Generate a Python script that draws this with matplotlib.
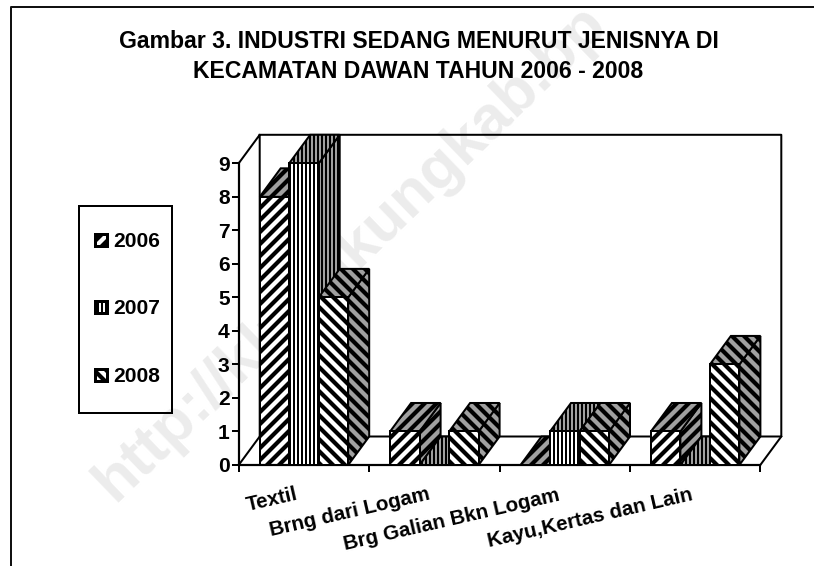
import matplotlib
matplotlib.use("Agg")
import matplotlib.pyplot as plt
from matplotlib.patches import Polygon, Rectangle

plt.rcParams['font.family'] = ['Liberation Sans', 'DejaVu Sans']
plt.rcParams['font.weight'] = 'bold'

# data
kategori = ["Textil", "Brng dari Logam", "Brg Galian Bkn Logam", "Kayu,Kertas dan Lain"]
tahun = ["2006", "2007", "2008"]
v2006 = [8, 1, 0, 1]
v2007 = [9, 0, 1, 0]
v2008 = [5, 1, 1, 3]
judul = ["Gambar 3. INDUSTRI SEDANG MENURUT JENISNYA DI",
         "KECAMATAN DAWAN TAHUN 2006 - 2008"]

# estilo
hatches = ["//", "|||", "\\\\"]
hatch_lw = [4.2, 2.0, 4.2]
gris = "#a0a0a0"
W, H = 814, 566

fig = plt.figure(figsize=(W / 72, H / 72), dpi=72, facecolor="white")

# capa de fondo en pixeles: marco, titulo, marca de agua, leyenda
bg = fig.add_axes([0, 0, 1, 1])
bg.set_xlim(0, W)
bg.set_ylim(H, 0)
bg.axis("off")
bg.text(115, 503, "http://klungkungkab.bp", fontsize=62, color="#ececec",
        rotation=44, rotation_mode="anchor", ha="left", va="baseline", clip_on=True, zorder=0)
bg.plot([10.5, 10.5, W], [H, 7, 7], color="#111111", lw=2, zorder=1)
bg.text(418.5, 48, judul[0], fontsize=23, ha="center", va="baseline")
bg.text(418.5, 78, judul[1], fontsize=23, ha="center", va="baseline")

# etiquetas del eje x
lab_x = [272, 350, 452, 590]
lab_y = [499.5, 512, 520, 518]
for t, x, y in zip(kategori, lab_x, lab_y):
    bg.text(x, y, t, fontsize=20.5, rotation=13, rotation_mode="anchor", ha="center", va="center")

# leyenda
bg.add_patch(Rectangle((79, 206), 93, 207, fc="none", ec="black", lw=2))
leg_y = [247, 314, 382]
for t, h, lw, y in zip(tahun, hatches, hatch_lw, leg_y):
    plt.rcParams['hatch.linewidth'] = lw
    bg.add_patch(Rectangle((95, y - 13.5), 12, 12, facecolor="white", edgecolor="black", hatch=h, lw=3))
    bg.text(113, y, t, fontsize=21, ha="left", va="baseline")

# grafico
ax = fig.add_axes([238.7 / W, (H - 465) / H, 521.6 / W, 301.7 / H])
ax.patch.set_visible(False)
ax.set_xlim(0, 4)
ax.set_ylim(0, 9)
ax.set_yticks(range(10))
ax.set_xticks(range(5))
ax.set_xticklabels([])
ax.tick_params(axis="both", length=7, width=2, labelsize=21, pad=2)
for s in ["top", "right"]:
    ax.spines[s].set_visible(False)
for s in ["left", "bottom"]:
    ax.spines[s].set_linewidth(2.2)

DX = 21 / 130.4
DY = 28.5 / 33.52
ANCHO = 29.5 / 130.4

# paredes y piso
kw = dict(color="black", lw=2, clip_on=False, zorder=1)
ax.plot([0, DX, DX, 4 + DX, 4 + DX, DX], [9, 9 + DY, DY, DY, 9 + DY, 9 + DY], **kw)
ax.plot([0, DX], [0, DY], **kw)
ax.plot([4, 4 + DX], [0, DY], **kw)


def poly(puntos, cara, h, z):
    ax.add_patch(Polygon(puntos, closed=True, facecolor=cara, edgecolor="black", hatch=h,
                         lw=2, clip_on=False, zorder=z, joinstyle="miter"))


series = [v2006, v2007, v2008]
z = 2
for i in range(len(kategori)):
    for j, vals in enumerate(series):
        plt.rcParams['hatch.linewidth'] = hatch_lw[j]
        v = vals[i]
        x0 = i + DX + j * ANCHO
        x1 = x0 + ANCHO
        # lado y tapa en gris, frente en blanco
        if v > 0:
            poly([(x1, 0), (x1 + DX, DY), (x1 + DX, v + DY), (x1, v)], gris, hatches[j], z)
        poly([(x0, v), (x1, v), (x1 + DX, v + DY), (x0 + DX, v + DY)], gris, hatches[j], z)
        if v > 0:
            poly([(x0, 0), (x1, 0), (x1, v), (x0, v)], "white", hatches[j], z)
        z += 1

fig.savefig("out.png", dpi=72)
